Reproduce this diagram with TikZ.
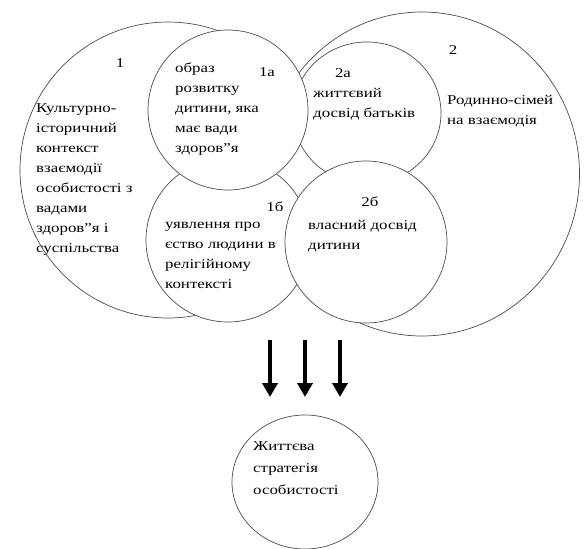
\documentclass[tikz,border=0pt]{standalone}
\usepackage{fontspec}
\setmainfont{Liberation Serif}[FakeStretch=1.25]
\usetikzlibrary{shapes.geometric,arrows.meta}
\tikzstyle{ring}=[ellipse,draw=black!70,fill=white,line width=0.7pt,inner sep=0pt]
\tikzstyle{txt}=[font=\fontsize{13.5}{20}\selectfont,align=left,anchor=north west,inner sep=0pt]
\tikzstyle{num}=[font=\fontsize{13.5}{15}\selectfont,inner sep=0pt]
\tikzstyle{bigarrow}=[draw,line width=4pt,-{Triangle[width=15pt,length=14pt]}]

\begin{document}
\begin{tikzpicture}[x=1pt,y=-1pt]
    \useasboundingbox (0,0) rectangle (584,549);

    % big circles
    \node[ring,minimum width=296,minimum height=296] (c1) at (168,170) {};
    \node[ring,minimum width=315,minimum height=324] (c2) at (422,174) {};

    % small circles
    \foreach \pos/ \name/\w/\h in {{(228,240)/c1b/164/164}, {(367,113)/c2a/148/142}, {(228,110)/c1a/160/160}, {(366,242)/c2b/162/162}}
        \node[ring,minimum width=\w,minimum height=\h] (\name) at \pos {};

    \node[ring,minimum width=146,minimum height=134] (res) at (305,482) {};

    % numbers
    \foreach \pos/ \name/\txt in {{(120,63)/n1/1}, {(267,72)/n1a/1а}, {(343,73)/n2a/2а}, {(453,50)/n2/2}, {(275,207)/n1b/1б}, {(370,202)/n2b/2б}}
        \node[num] (\name) at \pos {\txt};

    % texts
    \node[txt] (t1) at (36,103) {Культурно-\\історичний\\контекст\\взаємодії\\особистості з\\вадами\\здоров"я і\\суспільства};
    \node[txt] (t1a) at (175,63) {образ\\розвитку\\дитини, яка\\має вади\\здоров"я};
    \node[txt] (t2a) at (313,88) {життєвий\\досвід батьків};
    \node[txt] (t2) at (447,95) {Родинно-сімей\\на взаємодія};
    \node[txt] (t1b) at (165,222) {уявлення про\\єство людини в\\релігійному\\контексті};
    \node[txt] (t2b) at (308,220) {власний досвід\\дитини};
    \node[txt,font=\fontsize{13.5}{22}\selectfont] (tres) at (253,441) {Життєва\\стратегія\\особистості};

    % arrows
    \foreach \i/ \x in {1/270, 2/305, 3/340} {
        \coordinate (s\i) at (\x,340);
        \coordinate (e\i) at (\x,397);
        \draw[bigarrow] (s\i) -- (e\i);
    }

\end{tikzpicture}
\end{document}
